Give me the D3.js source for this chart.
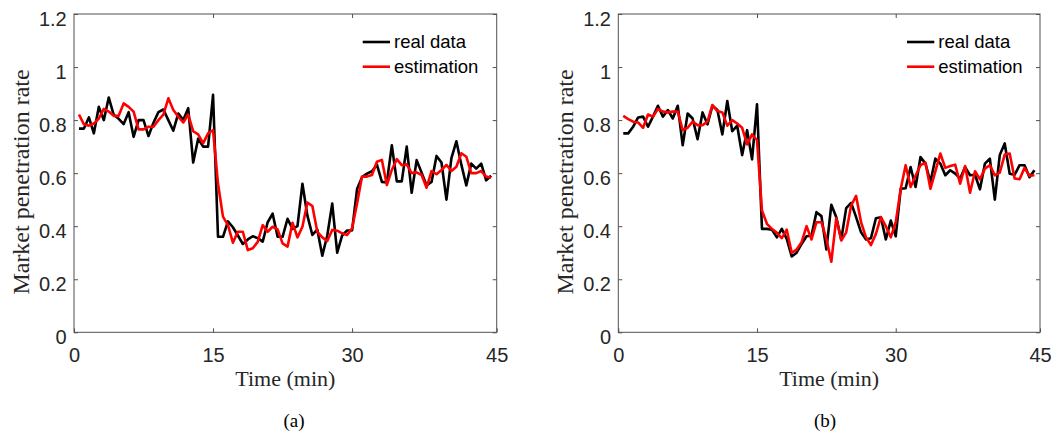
<!DOCTYPE html>
<html>
<head>
<meta charset="utf-8">
<script src="https://cdn.jsdelivr.net/npm/d3@7"></script>
<style>
  body { margin: 0; background: #fff; }
  svg { display: block; }
</style>
</head>
<body>
<div id="chart"></div>
<script>
// 84 samples over 45 minutes
const sampleStep = 45 / 84;

const realDataA = [
  0.768, 0.768, 0.81, 0.75, 0.85, 0.80, 0.885, 0.82, 0.805, 0.785, 0.83, 0.737, 0.80, 0.80,
  0.74, 0.79, 0.83, 0.84, 0.80, 0.76, 0.825, 0.80, 0.845, 0.64, 0.73, 0.70, 0.70, 0.895,
  0.36, 0.36, 0.418, 0.396, 0.365, 0.333, 0.35, 0.362, 0.355, 0.342, 0.415, 0.447, 0.36, 0.36,
  0.428, 0.39, 0.40, 0.56, 0.44, 0.367, 0.387, 0.289, 0.365, 0.485, 0.30, 0.365, 0.384, 0.384,
  0.54, 0.585, 0.598, 0.607, 0.632, 0.567, 0.565, 0.705, 0.569, 0.569, 0.70, 0.526, 0.649, 0.602,
  0.554, 0.567, 0.665, 0.64, 0.50, 0.657, 0.72, 0.632, 0.554, 0.636, 0.617, 0.636, 0.573, 0.59
];
const estimationA = [
  0.821, 0.784, 0.779, 0.787, 0.806, 0.842, 0.832, 0.816, 0.816, 0.863, 0.85, 0.832, 0.765, 0.765,
  0.775, 0.775, 0.80, 0.821, 0.882, 0.838, 0.813, 0.791, 0.821, 0.758, 0.746, 0.712, 0.75, 0.762,
  0.56, 0.436, 0.404, 0.338, 0.379, 0.379, 0.31, 0.317, 0.341, 0.404, 0.379, 0.398, 0.388, 0.335,
  0.323, 0.413, 0.358, 0.398, 0.489, 0.476, 0.379, 0.358, 0.344, 0.386, 0.383, 0.373, 0.367, 0.392,
  0.486, 0.587, 0.587, 0.593, 0.643, 0.65, 0.555, 0.612, 0.653, 0.63, 0.633, 0.60, 0.603, 0.593,
  0.545, 0.608, 0.596, 0.612, 0.631, 0.608, 0.624, 0.675, 0.662, 0.60, 0.60, 0.608, 0.587, 0.583
];
const realDataB = [
  0.75, 0.75, 0.775, 0.81, 0.813, 0.775, 0.813, 0.854, 0.813, 0.838, 0.806, 0.854, 0.705, 0.825,
  0.806, 0.728, 0.829, 0.784, 0.854, 0.838, 0.746, 0.872, 0.758, 0.779, 0.668, 0.762, 0.652, 0.86,
  0.39, 0.39, 0.387, 0.358, 0.39, 0.352, 0.286, 0.30, 0.333, 0.362, 0.365, 0.453, 0.438, 0.312,
  0.481, 0.434, 0.35, 0.468, 0.488, 0.434, 0.377, 0.35, 0.355, 0.43, 0.434, 0.35, 0.421, 0.362,
  0.541, 0.543, 0.623, 0.548, 0.661, 0.636, 0.567, 0.655, 0.636, 0.592, 0.611, 0.598, 0.58, 0.623,
  0.592, 0.594, 0.539, 0.636, 0.655, 0.50, 0.668, 0.712, 0.598, 0.594, 0.63, 0.63, 0.585, 0.611
];
const estimationB = [
  0.816, 0.804, 0.794, 0.791, 0.771, 0.821, 0.813, 0.842, 0.832, 0.829, 0.832, 0.832, 0.762, 0.771,
  0.794, 0.781, 0.781, 0.794, 0.857, 0.834, 0.829, 0.779, 0.80, 0.787, 0.771, 0.708, 0.746, 0.724,
  0.459, 0.409, 0.39, 0.375, 0.355, 0.387, 0.30, 0.312, 0.34, 0.40, 0.35, 0.415, 0.415, 0.352,
  0.266, 0.43, 0.346, 0.377, 0.478, 0.514, 0.415, 0.358, 0.329, 0.371, 0.434, 0.40, 0.358, 0.415,
  0.54, 0.63, 0.548, 0.59, 0.63, 0.64, 0.541, 0.607, 0.674, 0.62, 0.627, 0.632, 0.56, 0.627,
  0.526, 0.607, 0.577, 0.617, 0.63, 0.592, 0.602, 0.67, 0.674, 0.58, 0.577, 0.62, 0.59, 0.592
];

const xTickLabels = ["0", "15", "30", "45"];
const yTicks = [0, 0.2, 0.4, 0.6, 0.8, 1, 1.2];
const legendLabels = ["real data", "estimation"];
const captions = ["(a)", "(b)"];

const width = 1052;
const height = 437;
const plotTop = 14;
const plotBottom = 332.3;
const xMax = 45.6;

const sansFont = "'Liberation Sans', Arial, sans-serif";
const serifFont = "'Liberation Serif', 'Times New Roman', serif";
const axisColor = "#505050";
const textColor = "#262626";
const lineColors = ["#000000", "#ff0000"];

const svg = d3
  .select("#chart")
  .append("svg")
  .attr("width", width)
  .attr("height", height)
  .style("background", "#fff");

const panels = [
  { left: 74, right: 496.7, real: realDataA, est: estimationA, caption: captions[0], captionX: 294 },
  { left: 618.3, right: 1040, real: realDataB, est: estimationB, caption: captions[1], captionX: 825 },
];

panels.forEach(drawPanel);

function styleAxis(g) {
  g.select(".domain").remove();
  g.selectAll(".tick line").attr("stroke", axisColor);
  g.selectAll(".tick text")
    .attr("fill", textColor)
    .style("font-family", sansFont)
    .style("font-size", "20px");
}

function drawPanel(p) {
  const g = svg.append("g");

  const xScale = d3.scaleLinear().domain([0, xMax]).range([p.left, p.right]);
  const yScale = d3.scaleLinear().domain([0, 1.2]).range([plotBottom, plotTop]);
  const time = p.real.map((d, i) => (i + 1) * sampleStep);

  // Axes (ticks pointing inward, box around the plot)

  g.append("g")
    .attr("transform", `translate(0,${plotBottom})`)
    .call(
      d3.axisBottom(xScale)
        .tickValues([0, 15, 30, xMax])
        .tickFormat((d, i) => xTickLabels[i])
        .tickSizeInner(-4)
        .tickSizeOuter(0)
        .tickPadding(15.5)
    )
    .call(styleAxis);

  g.append("g")
    .attr("transform", `translate(0,${plotTop})`)
    .call(d3.axisTop(xScale).tickValues([15, 30]).tickFormat("").tickSizeInner(-4).tickSizeOuter(0))
    .call(styleAxis);

  g.append("g")
    .attr("transform", `translate(${p.left},0)`)
    .call(
      d3.axisLeft(yScale)
        .tickValues(yTicks)
        .tickFormat((d) => String(d))
        .tickSizeInner(-4)
        .tickSizeOuter(0)
        .tickPadding(7.3)
    )
    .call(styleAxis)
    .selectAll(".tick text")
    .attr("dy", "0.55em");

  g.append("g")
    .attr("transform", `translate(${p.right},0)`)
    .call(d3.axisRight(yScale).tickValues(yTicks).tickFormat("").tickSizeInner(-4).tickSizeOuter(0))
    .call(styleAxis);

  g.append("rect")
    .attr("x", p.left)
    .attr("y", plotTop)
    .attr("width", p.right - p.left)
    .attr("height", plotBottom - plotTop)
    .attr("fill", "none")
    .attr("stroke", axisColor)
    .attr("stroke-width", 1);

  // Lines

  const line = d3
    .line()
    .x((d, i) => xScale(time[i]))
    .y((d) => yScale(d));

  [p.real, p.est].forEach((series, k) => {
    g.append("path")
      .datum(series)
      .attr("fill", "none")
      .attr("stroke", lineColors[k])
      .attr("stroke-width", 2.6)
      .attr("stroke-linejoin", "round")
      .attr("d", line);
  });

  // Legend

  legendLabels.forEach((label, k) => {
    const ly = [42, 66.7][k];
    g.append("line")
      .attr("x1", p.left + 288.7)
      .attr("x2", p.left + 316)
      .attr("y1", ly)
      .attr("y2", ly)
      .attr("stroke", lineColors[k])
      .attr("stroke-width", 2.6);
    g.append("text")
      .attr("x", p.left + 320)
      .attr("y", ly + 6.4)
      .attr("fill", "#000")
      .style("font-family", sansFont)
      .style("font-size", "18.5px")
      .text(label);
  });

  // Axis titles and caption

  g.append("text")
    .attr("transform", `translate(${p.left - 45},182) rotate(-90)`)
    .attr("text-anchor", "middle")
    .attr("fill", textColor)
    .style("font-family", serifFont)
    .style("font-size", "24px")
    .text("Market penetration rate");

  g.append("text")
    .attr("x", (p.left + p.right) / 2)
    .attr("y", 386)
    .attr("text-anchor", "middle")
    .attr("fill", textColor)
    .style("font-family", serifFont)
    .style("font-size", "22px")
    .text("Time (min)");

  g.append("text")
    .attr("x", p.captionX)
    .attr("y", 426.7)
    .attr("text-anchor", "middle")
    .attr("fill", "#000")
    .style("font-family", serifFont)
    .style("font-size", "19px")
    .text(p.caption);
}
</script>
</body>
</html>
